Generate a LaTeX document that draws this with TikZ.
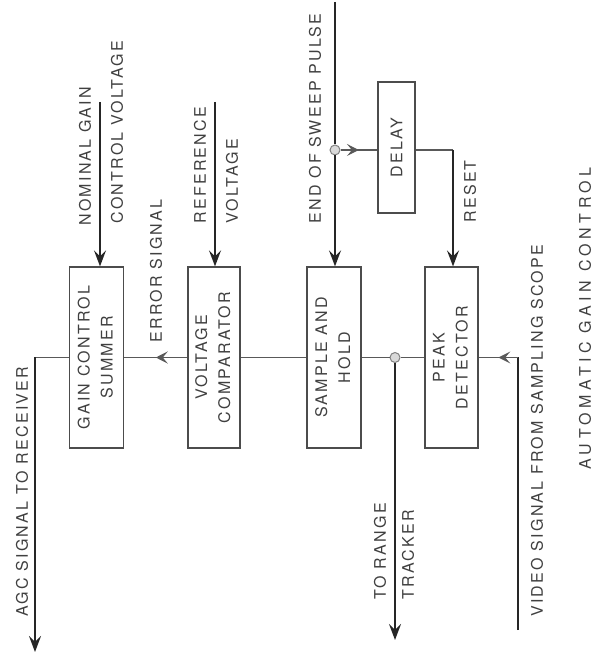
\documentclass[tikz,border=0pt]{standalone}
\usepackage{fontspec}
\newfontfamily\lblfont[LetterSpace=14]{TeX Gyre Heros}
\newfontfamily\titlefont[LetterSpace=28]{TeX Gyre Heros}
\usetikzlibrary{arrows.meta, positioning, calc, decorations.markings}

\begin{document}
\begin{tikzpicture}[
    x=0.5pt, y=-0.5pt, >={Stealth[length=8pt, width=6pt, inset=3pt]},
    block/.style={draw=black!70, line width=0.6pt, rectangle, minimum width=27pt, minimum height=90.5pt, inner sep=0pt, font=\lblfont\fontsize{8}{11.5}\selectfont, text=black!75},
    lbl/.style={font=\lblfont\fontsize{8}{11.5}\selectfont, text=black!75, rotate=90, anchor=west, inner sep=0pt},
    sig/.style={line width=1pt, draw=black!85},
    bus/.style={line width=0.6pt, draw=black!65},
    midarrow/.style={bus, decoration={markings, mark=at position 0.5 with {\arrow{Stealth[length=6pt, width=6pt, inset=2.5pt]}}}, postaction={decorate}},
    tee/.style={circle, draw=black!50, fill=black!15, line width=0.5pt, minimum size=5pt, inner sep=0pt}
]
    \useasboundingbox (0,0) rectangle (599,656);

    % Blocks
    \node[block] (summer) at (96.5,357.5) {\rotatebox{90}{\begin{tabular}{@{}c@{}}GAIN CONTROL\\SUMMER\end{tabular}}};
    \node[block, minimum width=26pt] (comp) at (214,357.5) {\rotatebox{90}{\begin{tabular}{@{}c@{}}VOLTAGE\\COMPARATOR\end{tabular}}};
    \node[block] (sh) at (334,357.5) {\rotatebox{90}{\begin{tabular}{@{}c@{}}SAMPLE AND\\HOLD\end{tabular}}};
    \node[block, minimum width=26.5pt] (peak) at (451.5,357.5) {\rotatebox{90}{\begin{tabular}{@{}c@{}}PEAK\\DETECTOR\end{tabular}}};
    \node[block, minimum width=18.5pt, minimum height=65.5pt] (delay) at (396.5,147.5) {\rotatebox{90}{DELAY}};

    % Junctions
    \node[tee] (j1) at (335,150) {};
    \node[tee] (j2) at (395,357.5) {};

    % Free ends
    \coordinate (nom) at (100,102);
    \coordinate (ref) at (215,102);
    \coordinate (eos) at (335,2);
    \coordinate (rst) at (453,150);
    \coordinate (vid) at (518,630);
    \coordinate (rng) at (395,640);
    \coordinate (agc) at (35,652);

    % Inputs
    \draw[sig, ->] (nom) -- (nom |- summer.north);
    \draw[sig, ->] (ref) -- (ref |- comp.north);
    \draw[sig] (eos) -- (j1);
    \draw[sig, ->] (j1) -- (j1 |- sh.north);
    \draw[midarrow] (j1) -- (j1 -| delay.west);
    \draw[bus] (delay.east |- j1) -- (rst);
    \draw[sig, ->] (rst) -- (rst |- peak.north);
    \draw[sig] (vid) -- (vid |- peak.east);
    \draw[midarrow] (vid |- peak.east) -- (peak.east);

    % Main line
    \draw[bus] (peak.west) -- (j2);
    \draw[bus] (j2) -- (sh.east);
    \draw[bus] (sh.west) -- (comp.east);
    \draw[midarrow] (comp.west) -- (summer.east);
    \draw[bus] (summer.west) -- (summer.west -| agc);

    % Outputs
    \draw[sig, ->] (j2) -- (rng);
    \draw[sig, ->] (summer.west -| agc) -- (agc);

    % Labels
    \node[lbl] (nomA) at (85,226) {NOMINAL GAIN};
    \node[lbl] (nomB) at (117,224) {CONTROL VOLTAGE};
    \node[lbl] (err) at (156,343) {ERROR SIGNAL};
    \node[lbl] (refA) at (200,224) {REFERENCE};
    \node[lbl] (refB) at (232,224) {VOLTAGE};
    \node[lbl] (eosL) at (315,224) {END OF SWEEP PULSE};
    \node[lbl] (rstL) at (470,223) {RESET};
    \node[lbl] (rngA) at (380,600) {TO RANGE};
    \node[lbl] (rngB) at (408,600) {TRACKER};
    \node[lbl] (vidL) at (537,617) {VIDEO SIGNAL FROM SAMPLING SCOPE};
    \node[lbl] (agcL) at (22,617) {AGC SIGNAL TO RECEIVER};
    \node[lbl, font=\titlefont\fontsize{8}{11.5}\selectfont] (title) at (585,470) {AUTOMATIC GAIN CONTROL};
\end{tikzpicture}
\end{document}
